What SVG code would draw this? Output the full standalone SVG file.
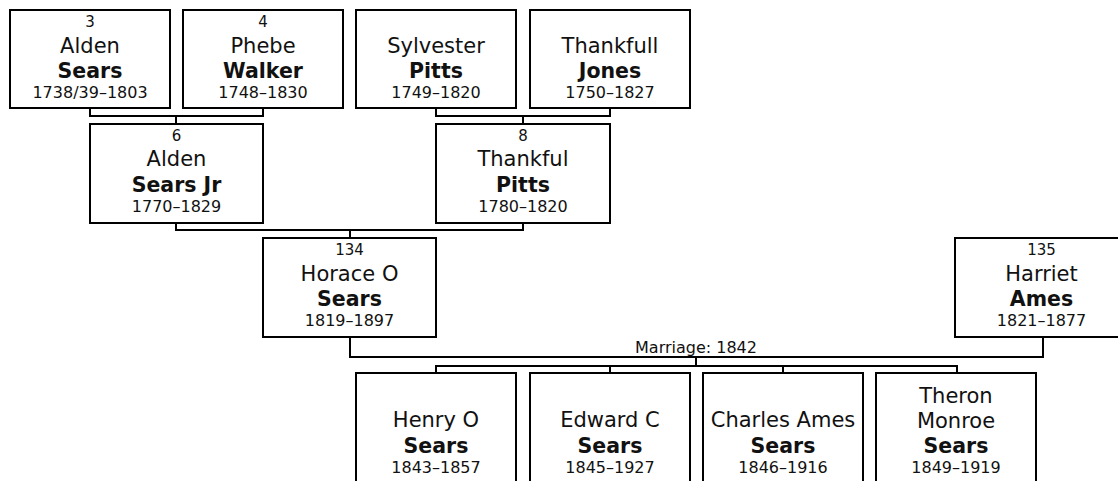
<svg xmlns="http://www.w3.org/2000/svg" width="1118" height="481" viewBox="0 0 1118 481">
<style>
rect.box{fill:#fff;stroke:#000;stroke-width:2}
text{font-family:"DejaVu Sans",Verdana,sans-serif;fill:#111;text-anchor:middle}
.num{font-size:15px}
.nm{font-size:21px}
.sn{font-size:20.5px;font-weight:bold}
.dt{font-size:16px}
.lbl{font-size:16px}
#connectors path{fill:none;stroke:#000;stroke-width:2}
</style>
<rect width="1118" height="481" fill="#fff"/>
<g id="connectors">
<path d="M90 108V116H263V108M176 116V124"/>
<path d="M436 108V116H610V108M523 116V124"/>
<path d="M176 223V230H523V223M350 230V238"/>
<path d="M350 337V357H1043V337M696 357V366"/>
<path d="M436 373V366H957V373M610 366V373M783 366V373"/>
<text class="lbl" x="696" y="353">Marriage: 1842</text>
</g>
<g id="n3"><rect class="box" x="10" y="10" width="160" height="98"/>
<text class="num" x="90" y="27">3</text><text class="nm" x="90" y="53">Alden</text><text class="sn" x="90" y="78">Sears</text><text class="dt" x="90" y="98">1738/39–1803</text></g>
<g id="n4"><rect class="box" x="183" y="10" width="160" height="98"/>
<text class="num" x="263" y="27">4</text><text class="nm" x="263" y="53">Phebe</text><text class="sn" x="263" y="78">Walker</text><text class="dt" x="263" y="98">1748–1830</text></g>
<g id="sylvester"><rect class="box" x="356" y="10" width="160" height="98"/>
<text class="nm" x="436" y="53">Sylvester</text><text class="sn" x="436" y="78">Pitts</text><text class="dt" x="436" y="98">1749–1820</text></g>
<g id="thankfull"><rect class="box" x="530" y="10" width="160" height="98"/>
<text class="nm" x="610" y="53">Thankfull</text><text class="sn" x="610" y="78">Jones</text><text class="dt" x="610" y="98">1750–1827</text></g>
<g id="n6"><rect class="box" x="90" y="124" width="173" height="99"/>
<text class="num" x="176.5" y="141">6</text><text class="nm" x="176.5" y="166">Alden</text><text class="sn" x="176.5" y="192">Sears Jr</text><text class="dt" x="176.5" y="212">1770–1829</text></g>
<g id="n8"><rect class="box" x="436" y="124" width="174" height="99"/>
<text class="num" x="523" y="141">8</text><text class="nm" x="523" y="166">Thankful</text><text class="sn" x="523" y="192">Pitts</text><text class="dt" x="523" y="212">1780–1820</text></g>
<g id="n134"><rect class="box" x="263" y="238" width="173" height="99"/>
<text class="num" x="349.5" y="255">134</text><text class="nm" x="349.5" y="281">Horace O</text><text class="sn" x="349.5" y="306">Sears</text><text class="dt" x="349.5" y="326">1819–1897</text></g>
<g id="n135"><rect class="box" x="955" y="238" width="173" height="99"/>
<text class="num" x="1041.5" y="255">135</text><text class="nm" x="1041.5" y="281">Harriet</text><text class="sn" x="1041.5" y="306">Ames</text><text class="dt" x="1041.5" y="326">1821–1877</text></g>
<g id="henry"><rect class="box" x="356" y="373" width="160" height="130"/>
<text class="nm" x="436" y="427">Henry O</text><text class="sn" x="436" y="453">Sears</text><text class="dt" x="436" y="473">1843–1857</text></g>
<g id="edward"><rect class="box" x="530" y="373" width="160" height="130"/>
<text class="nm" x="610" y="427">Edward C</text><text class="sn" x="610" y="453">Sears</text><text class="dt" x="610" y="473">1845–1927</text></g>
<g id="charles"><rect class="box" x="703" y="373" width="160" height="130"/>
<text class="nm" x="783" y="427">Charles Ames</text><text class="sn" x="783" y="453">Sears</text><text class="dt" x="783" y="473">1846–1916</text></g>
<g id="theron"><rect class="box" x="876" y="373" width="160" height="130"/>
<text class="nm" x="956" y="403">Theron</text><text class="nm" x="956" y="428">Monroe</text><text class="sn" x="956" y="453">Sears</text><text class="dt" x="956" y="473">1849–1919</text></g>
</svg>
